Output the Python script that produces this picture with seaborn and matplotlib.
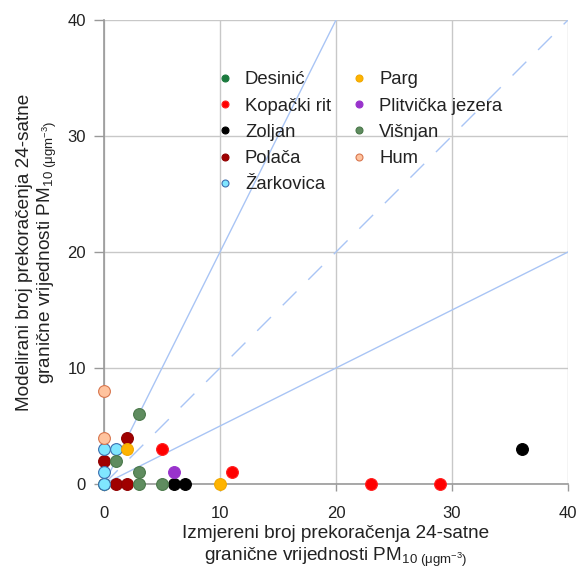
import numpy as np
import pandas as pd
import matplotlib
matplotlib.use("Agg")
import matplotlib.pyplot as plt
import seaborn as sns
from matplotlib.lines import Line2D

stations = ["Desinić", "Kopački rit", "Zoljan", "Polača", "Žarkovica",
            "Parg", "Plitvička jezera", "Višnjan", "Hum"]
desinic_x, desinic_y = [0], [0]
kopacki_x, kopacki_y = [5, 11, 23, 29], [3, 1, 0, 0]
zoljan_x, zoljan_y = [6, 7, 36], [0, 0, 3]
polaca_x, polaca_y = [0, 1, 2, 2], [2, 0, 0, 4]
zarkovica_x, zarkovica_y = [0, 1, 0, 0], [3, 3, 1, 0]
parg_x, parg_y = [2, 10], [3, 0]
plitvicka_x, plitvicka_y = [6], [1]
visnjan_x, visnjan_y = [3, 1, 3, 3, 5], [6, 2, 1, 0, 0]
hum_x, hum_y = [0, 0], [8, 4]

xs = [desinic_x, kopacki_x, zoljan_x, polaca_x, zarkovica_x, parg_x, plitvicka_x, visnjan_x, hum_x]
ys = [desinic_y, kopacki_y, zoljan_y, polaca_y, zarkovica_y, parg_y, plitvicka_y, visnjan_y, hum_y]
rows = []
for s, xx, yy in zip(stations, xs, ys):
    for a, b in zip(xx, yy):
        rows.append({"Izmjereni": a, "Modelirani": b, "Postaja": s})
df = pd.DataFrame(rows)

faces = {"Desinić": "#1b7a3e", "Kopački rit": "#ff0000", "Zoljan": "#000000",
         "Polača": "#a00000", "Žarkovica": "#80e6ff", "Parg": "#ffb400",
         "Plitvička jezera": "#9933cc", "Višnjan": "#5f8c5f", "Hum": "#ffc39e"}
edges = {"Desinić": "#1b7a3e", "Kopački rit": "#ff2020", "Zoljan": "#000000",
         "Polača": "#900000", "Žarkovica": "#3d6fb0", "Parg": "#f0a800",
         "Plitvička jezera": "#9933cc", "Višnjan": "#4a784a", "Hum": "#d8764e"}

sns.set_theme(style="white")
plt.rcParams["font.family"] = ["Liberation Sans", "DejaVu Sans"]
plt.rcParams["mathtext.fontset"] = "custom"
plt.rcParams["mathtext.rm"] = "Liberation Sans"
plt.rcParams["mathtext.it"] = "Liberation Sans:italic"
plt.rcParams["mathtext.bf"] = "Liberation Sans:bold"

fig = plt.figure(figsize=(5.76, 5.70), dpi=100)
ax = fig.add_axes([104/576, 1-484/570, 464/576, 464/570])

lc = "#a9c5f5"
ax.plot([0, 20], [0, 40], color=lc, lw=1, zorder=1)
ax.plot([0, 40], [0, 20], color=lc, lw=1, zorder=1)
ax.plot([0, 40], [0, 40], color=lc, lw=1, dashes=(14, 12), zorder=1)

handles = []
for s in stations:
    sub = df[df["Postaja"] == s]
    sns.scatterplot(data=sub, x="Izmjereni", y="Modelirani", ax=ax, s=72,
                    color=faces[s], edgecolor=edges[s], linewidth=0.8,
                    clip_on=False, zorder=3, legend=False)
    handles.append(Line2D([], [], marker="o", ls="", markersize=5,
                          markerfacecolor=faces[s], markeredgecolor=edges[s],
                          markeredgewidth=0.8, label=s))

ax.set_xlim(0, 40)
ax.set_ylim(0, 40)
ticks = [0, 10, 20, 30, 40]
ax.set_xticks(ticks)
ax.set_yticks(ticks)
ax.grid(True, color="#c8c8c8", lw=1)
for sp in ["top", "right"]:
    ax.spines[sp].set_visible(False)
for sp in ["left", "bottom"]:
    ax.spines[sp].set_color("#999999")
    ax.spines[sp].set_linewidth(1.2)
ax.tick_params(axis="x", direction="out", length=5, width=1, color="#999999",
               pad=11, labelsize=12, labelcolor="#222222", bottom=True)
ax.tick_params(axis="y", direction="out", length=7, width=1, color="#999999",
               pad=6, labelsize=12, labelcolor="#222222", left=True)

ax.set_xlabel("Izmjereni broj prekoračenja 24-satne\n"
              r"granične vrijednosti PM$_{10\ (\mathrm{\mu gm}^{-3})}$",
              fontsize=13.7, color="#222222", labelpad=3)
ax.set_ylabel("Modelirani broj prekoračenja 24-satne\n"
              r"granične vrijednosti PM$_{10\ (\mathrm{\mu gm}^{-3})}$",
              fontsize=13.7, color="#222222", labelpad=6)

leg = ax.legend(handles=handles, ncol=2, loc="upper left",
                bbox_to_anchor=(104/464, 1-(64-20)/464), frameon=False,
                fontsize=13.3, handletextpad=0.6, columnspacing=1.0,
                labelspacing=0.5, handlelength=1.0, borderaxespad=0)
for t in leg.get_texts():
    t.set_color("#222222")

fig.savefig("out.png", dpi=100)
